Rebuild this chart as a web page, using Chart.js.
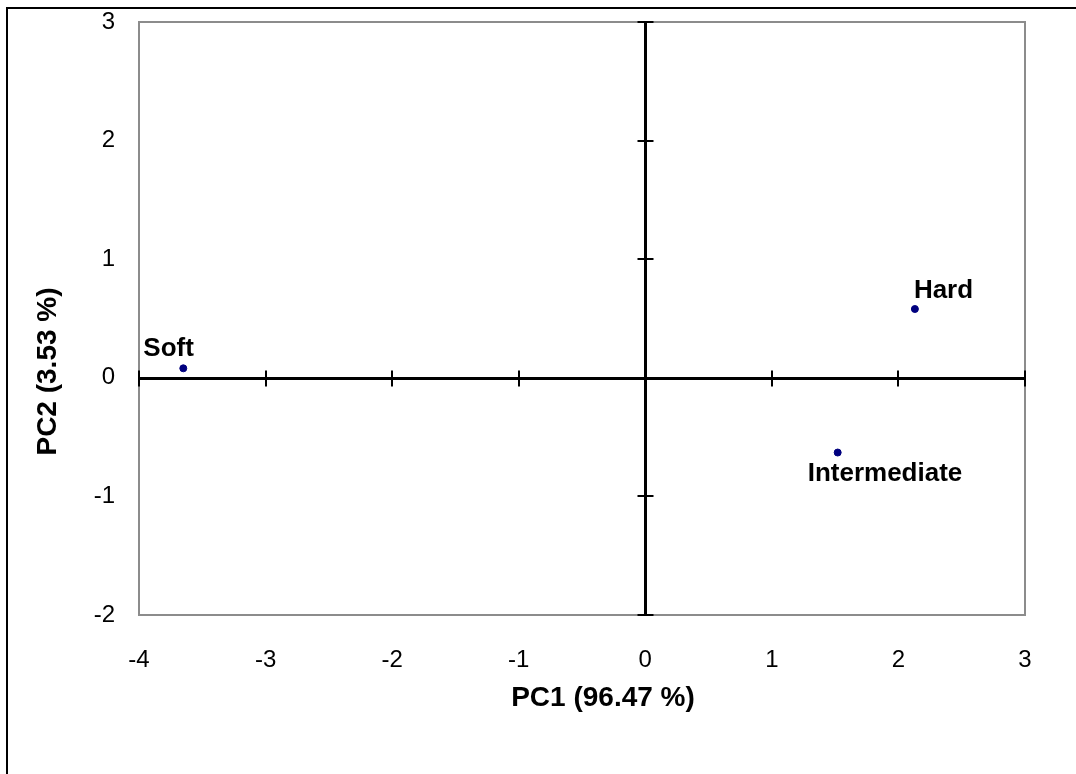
<!DOCTYPE html>
<html>
<head>
<meta charset="utf-8">
<script src="https://cdn.jsdelivr.net/npm/chart.js@4.4.1/dist/chart.umd.min.js"></script>
<style>
  html, body { margin: 0; padding: 0; background: #fff; }
  #wrap { width: 1076px; height: 774px; position: relative; }
</style>
</head>
<body>
<div id="wrap"><canvas id="pcaChart" width="1076" height="774"></canvas></div>
<script>
const sampleNames = ['Soft', 'Hard', 'Intermediate'];
const pc1Scores = [-3.65, 2.13, 1.52];
const pc2Scores = [0.08, 0.58, -0.63];

const xTitle = 'PC1 (96.47 %)';
const yTitle = 'PC2 (3.53 %)';

// label offsets relative to each point (pixels)
const labelPlace = [
  { dx: -40, dy: -19 },
  { dx: -1, dy: -18 },
  { dx: -30, dy: 21 }
];

const points = pc1Scores.map((v, i) => ({ x: v, y: pc2Scores[i] }));

const FONT = 'Arial, "Liberation Sans", sans-serif';

const framePlugin = {
  id: 'frame',
  beforeDraw(chart) {
    const ctx = chart.ctx;
    ctx.save();
    ctx.strokeStyle = '#000';
    ctx.lineWidth = 2;
    ctx.beginPath();
    ctx.moveTo(7, 774);
    ctx.lineTo(7, 8);
    ctx.lineTo(1076, 8);
    ctx.stroke();
    ctx.restore();
  },
  beforeDatasetsDraw(chart) {
    const { ctx, chartArea: a, scales } = chart;
    ctx.save();
    ctx.strokeStyle = '#8c8c8c';
    ctx.lineWidth = 2;
    ctx.strokeRect(a.left, a.top, a.right - a.left, a.bottom - a.top);

    // cross axes through zero
    const x0 = Math.round(scales.x.getPixelForValue(0)) + 0.5;
    const y0 = Math.round(scales.y.getPixelForValue(0)) + 0.5;
    ctx.strokeStyle = '#000';
    ctx.lineWidth = 3;
    ctx.beginPath();
    ctx.moveTo(a.left, y0); ctx.lineTo(a.right, y0);
    ctx.moveTo(x0, a.top); ctx.lineTo(x0, a.bottom);
    ctx.stroke();

    ctx.lineWidth = 2;
    ctx.beginPath();
    scales.x.ticks.forEach(t => {
      const px = Math.round(scales.x.getPixelForValue(t.value));
      ctx.moveTo(px, y0 - 8); ctx.lineTo(px, y0 + 8);
    });
    scales.y.ticks.forEach(t => {
      const py = Math.round(scales.y.getPixelForValue(t.value));
      ctx.moveTo(x0 - 8, py); ctx.lineTo(x0 + 8, py);
    });
    ctx.stroke();
    ctx.restore();
  },
  afterDatasetsDraw(chart) {
    const { ctx, chartArea: a } = chart;
    const meta = chart.getDatasetMeta(0);
    ctx.save();
    ctx.font = 'bold 26px ' + FONT;
    ctx.fillStyle = '#000';
    ctx.textBaseline = 'middle';
    ctx.textAlign = 'left';
    meta.data.forEach((el, i) => {
      const p = labelPlace[i];
      ctx.fillText(sampleNames[i], el.x + p.dx, el.y + p.dy);
    });

    // axis titles
    ctx.font = 'bold 28px ' + FONT;
    ctx.textAlign = 'center';
    ctx.fillText(xTitle, (a.left + a.right) / 2 + 21, 698);
    ctx.translate(48, (a.top + a.bottom) / 2 + 53);
    ctx.rotate(-Math.PI / 2);
    ctx.fillText(yTitle, 0, 0);
    ctx.restore();
  }
};

new Chart(document.getElementById('pcaChart').getContext('2d'), {
  type: 'scatter',
  data: {
    datasets: [{
      label: 'Samples',
      data: points,
      backgroundColor: '#00007f',
      borderColor: '#00007f',
      pointRadius: 3.5,
      pointHoverRadius: 3.5
    }]
  },
  options: {
    responsive: false,
    animation: false,
    layout: { padding: { left: 31, top: 22, right: 51, bottom: 62 } },
    plugins: {
      legend: { display: false },
      tooltip: { enabled: false }
    },
    scales: {
      x: {
        type: 'linear',
        min: -4,
        max: 3,
        grid: { display: false, drawTicks: false },
        border: { display: false },
        ticks: { stepSize: 1, padding: 31, color: '#000', font: { family: FONT, size: 24 } },
        afterFit(scale) { scale.height = 97; scale.paddingLeft = 0; scale.paddingRight = 0; }
      },
      y: {
        type: 'linear',
        min: -2,
        max: 3,
        grid: { display: false, drawTicks: false },
        border: { display: false },
        ticks: { stepSize: 1, padding: 24, color: '#000', font: { family: FONT, size: 24 } },
        afterFit(scale) { scale.width = 108; scale.paddingTop = 0; scale.paddingBottom = 0; }
      }
    }
  },
  plugins: [framePlugin]
});
</script>
</body>
</html>
